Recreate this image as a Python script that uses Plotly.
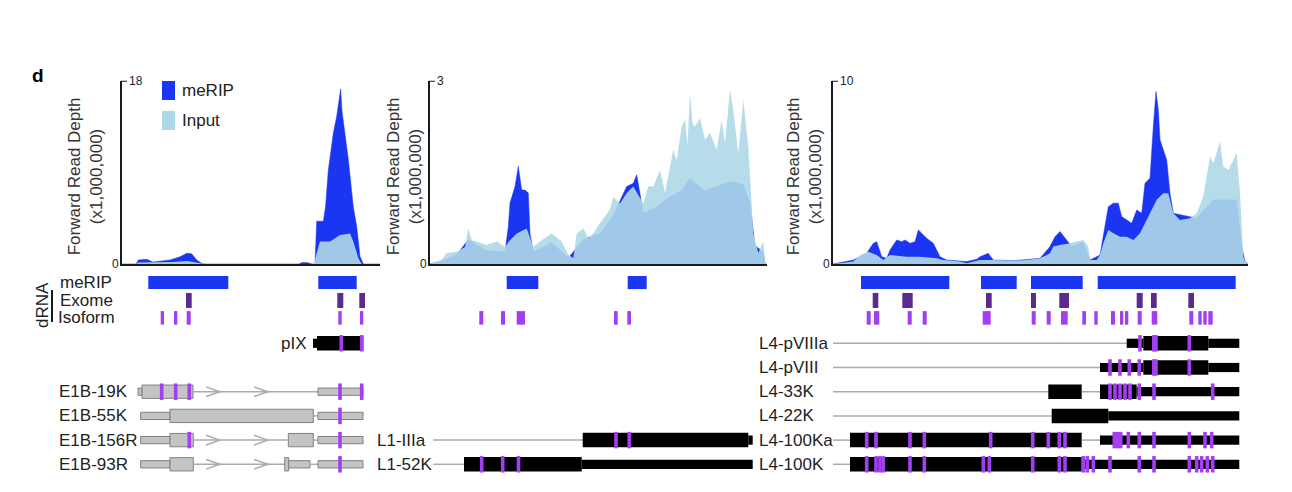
import plotly.graph_objects as go

W, H = 1292, 492
PAGE_OFFSET = 8  # default body margin of the html page

MERIP = "#1b36f2"
INPUT = "rgba(174,216,232,0.9)"
EXOME = "#5a2a8e"
ISOFORM = "#a23ff0"
GENE_BLACK = "#000000"
GENE_GRAY = "#c4c4c4"
GENE_EDGE = "#808080"
INTRON = "#ababab"
FONT = "Liberation Sans, Arial, Helvetica, sans-serif"

# ---------------- coverage, forward read depth (x1,000,000) vs genome position (nt) ----------------
# E1B / pIX region
e1b_merip_pos = [1500, 1640, 1663, 1747, 1810, 1980, 2080, 2147, 2197, 2247, 2297, 2330,
                 3270, 3300, 3360, 3400, 3430, 3447, 3513, 3535, 3563, 3590, 3613, 3647,
                 3687, 3700, 3730, 3763, 3813, 3847, 3880, 3913, 4080]
e1b_merip = [0, 0, 0.4, 0.46, 0.2, 0.4, 0.7, 1.05, 1.0, 0.4, 0.07, 0,
             0, 0.15, 0.12, 0, 0, 4.2, 4.2, 5.6, 9.2, 11.5, 12.85, 14.5,
             17.2, 15.0, 12.85, 10.3, 5.6, 3.7, 0.75, 0, 0]
e1b_input_pos = [1500, 1640, 1660, 1800, 2000, 2150, 2250, 2300, 2400, 3420, 3447,
                 3480, 3580, 3680, 3780, 3813, 3863, 3897, 4080]
e1b_input = [0, 0, 0.15, 0.15, 0.2, 0.3, 0.15, 0.05, 0, 0, 1.05,
             2.2, 2.2, 2.85, 3.0, 2.2, 0.6, 0, 0]

# L1 region
l1_input_pos = [10000, 10117, 10167, 10267, 10350, 10383, 10417, 10467, 10567, 10667,
                10750, 10800, 10867, 10967, 11033, 11100, 11217, 11317, 11383, 11433,
                11467, 11533, 11583, 11633, 11700, 11800, 11833, 11900, 11967, 12033,
                12133, 12183, 12233, 12300, 12350, 12400, 12433, 12467, 12517, 12550,
                12575, 12600, 12625, 12650, 12700, 12750, 12800, 12867, 12917, 12950,
                13000, 13033, 13083, 13133, 13183, 13233, 13283, 13333, 13350, 13370]
l1_input = [0, 0.07, 0.18, 0.2, 0.28, 0.58, 0.39, 0.37, 0.31, 0.37,
            0.28, 0.39, 0.5, 0.58, 0.28, 0.37, 0.5, 0.37, 0.15, 0.1,
            0.5, 0.58, 0.42, 0.5, 0.67, 0.89, 1.1, 0.99, 1.16, 1.27,
            0.99, 1.27, 1.27, 1.54, 1.16, 1.6, 1.87, 1.7, 2.25, 2.36,
            1.95, 2.8, 2.3, 2.25, 2.39, 2.03, 2.15, 1.87, 2.36, 1.98,
            2.85, 2.52, 1.81, 2.69, 1.92, 0.5, 0.18, 0.37, 0.04, 0]
l1_merip_pos = [10000, 10117, 10267, 10383, 10567, 10750, 10783, 10800, 10850, 10883,
                10917, 10950, 10983, 11000, 11033, 11217, 11383, 11533, 11700, 11833,
                11967, 12033, 12067, 12100, 12133, 12233, 12400, 12517, 12600, 12750,
                12917, 13000, 13133, 13200, 13250, 13333, 13350, 13370]
l1_merip = [0, 0.05, 0.15, 0.4, 0.22, 0.2, 0.61, 1.0, 1.27, 1.6,
            1.21, 1.21, 1.16, 0.5, 0.2, 0.35, 0.1, 0.4, 0.5, 0.8,
            1.27, 1.32, 1.46, 1.16, 0.84, 0.9, 1.1, 1.2, 1.4, 1.2,
            1.3, 1.35, 1.3, 1.0, 0.3, 0.2, 0, 0]

# L4 region
l4_input_pos = [24000, 24203, 24270, 24353, 24437, 24503, 24570, 24737, 24870, 25037,
                25103, 25270, 25337, 25470, 25603, 25803, 25937, 26070, 26170, 26203,
                26270, 26370, 26420, 26503, 26553, 26570, 26637, 26670, 26703, 26753,
                26803, 26870, 26937, 27003, 27070, 27137, 27237, 27303, 27353, 27403,
                27470, 27570, 27637, 27703, 27770, 27803, 27870, 27903, 27953, 28003,
                28037, 28070, 28103, 28120, 28150]
l4_input = [0, 0.13, 0.49, 0.67, 0.49, 0.22, 0.49, 0.4, 0.4, 0.31,
            0.22, 0.13, 0.04, 0.22, 0.22, 0.18, 0.22, 0.31, 0.58, 0.95,
            1.04, 1.13, 1.22, 1.31, 0.95, 0.22, 0.22, 0.49, 1.13, 1.86,
            1.68, 1.49, 1.49, 1.31, 1.68, 2.4, 3.5, 3.86, 3.86, 2.77,
            2.4, 2.5, 2.77, 3.68, 5.86, 5.5, 6.68, 5.32, 5.13, 5.68,
            6.05, 3.86, 0.4, 0.13, 0]
l4_merip_pos = [24000, 24203, 24337, 24403, 24437, 24487, 24537, 24570, 24637, 24687,
                24720, 24770, 24820, 24853, 24887, 24937, 25003, 25070, 25137, 25337,
                25437, 25470, 25553, 25603, 25803, 26070, 26170, 26220, 26270, 26337,
                26387, 26503, 26570, 26670, 26720, 26753, 26803, 26853, 26887, 26937,
                26987, 27037, 27087, 27120, 27170, 27203, 27230, 27253, 27270, 27337,
                27370, 27403, 27637, 27803, 28037, 28087, 28120, 28150]
l4_merip = [0, 0.22, 0.58, 1.13, 1.22, 0.4, 0.31, 0.77, 1.31, 1.22,
            1.31, 1.13, 1.22, 1.86, 1.68, 1.4, 1.13, 0.4, 0.22, 0.13,
            0.26, 0.4, 0.58, 0.22, 0.18, 0.31, 0.95, 1.49, 1.77, 1.31,
            0.95, 1.2, 0.22, 0.49, 2.04, 3.13, 3.32, 3.32, 2.59, 2.4,
            2.22, 2.95, 2.77, 4.41, 4.68, 7.5, 9.42, 8.42, 6.78, 5.68,
            3.86, 2.77, 2.5, 3.5, 3.5, 0.95, 0.13, 0]

y_max = [18, 3, 10]

# ---------------- tracks (nt ranges) ----------------
e1b_merip_peaks = [(1763, 2563), (3463, 3847)]
l1_merip_peaks = [(10767, 11083), (11977, 12167)]
l4_merip_peaks = [(24280, 25163), (25480, 25837), (25980, 26497), (26647, 28027)]

e1b_exome = [(2140, 2197), (3653, 3713), (3873, 3930)]
l1_exome = []
l4_exome = [(24397, 24453), (24693, 24797), (25530, 25587), (25980, 26030),
            (26263, 26360), (27037, 27097), (27180, 27237), (27553, 27610)]

e1b_isoform = [(1887, 1920), (2020, 2053), (2147, 2187), (3663, 3697), (3880, 3913)]
l1_isoform = [(10493, 10533), (10710, 10750), (10867, 10950), (11840, 11877), (11973, 12010)]
l4_isoform = [(24337, 24377), (24410, 24463), (24747, 24787), (24897, 24937), (25497, 25577),
              (25987, 26027), (26137, 26177), (26280, 26347), (26493, 26530), (26613, 26647),
              (26780, 26820), (26870, 26903), (26920, 26953), (27047, 27087), (27187, 27243),
              (27563, 27603), (27653, 27687), (27703, 27737), (27753, 27797)]

# transcript models: (start, end, part)
e1b_genes = {
    "pIX": [(3410, 3450, "utr"), (3450, 3913, "cds")],
    "E1B-19K": [(1660, 1700, "utr"), (1700, 2210, "cds"), (2210, 3460, "intron"), (3460, 3910, "utr")],
    "E1B-55K": [(1687, 1980, "utr"), (1980, 3413, "cds"), (3413, 3460, "intron"), (3460, 3910, "utr")],
    "E1B-156R": [(1687, 1980, "utr"), (1980, 2213, "cds"), (2213, 3163, "intron"), (3163, 3413, "cds"),
                 (3413, 3460, "intron"), (3460, 3910, "utr")],
    "E1B-93R": [(1687, 1980, "utr"), (1980, 2213, "cds"), (2213, 3127, "intron"), (3127, 3167, "cds"),
                (3167, 3380, "utr"), (3380, 3460, "intron"), (3460, 3910, "utr")],
}
e1b_sites = {
    "pIX": [3693, 3897],
    "E1B-19K": [1897, 2037, 2173, 3680, 3897],
    "E1B-55K": [3680],
    "E1B-156R": [2173, 3680],
    "E1B-93R": [3680],
}
e1b_chevrons = {"E1B-19K": [2480, 2960], "E1B-156R": [2480, 2960], "E1B-93R": [2480, 2960]}

l1_genes = {
    "L1-IIIa": [(10033, 11527, "intron"), (11527, 13183, "cds"), (13183, 13227, "utr")],
    "L1-52K": [(10033, 10340, "intron"), (10340, 11517, "cds"), (11517, 13227, "utr")],
}
l1_sites = {
    "L1-IIIa": [11860, 11993],
    "L1-52K": [10517, 10727, 10885],
}

l4_genes = {
    "L4-pVIIIa": [(24000, 26937, "intron"), (26937, 27103, "utr"), (27103, 27753, "cds"), (27753, 28063, "utr")],
    "L4-pVIII": [(24000, 26670, "intron"), (26670, 27103, "utr"), (27103, 27753, "cds"), (27753, 28063, "utr")],
    "L4-33K": [(24000, 26153, "intron"), (26153, 26487, "cds"), (26487, 26670, "intron"), (26670, 27037, "cds"),
               (27037, 28063, "utr")],
    "L4-22K": [(24000, 26187, "intron"), (26187, 26753, "cds"), (26753, 28063, "utr")],
    "L4-100Ka": [(24000, 24170, "intron"), (24170, 26487, "cds"), (26487, 26670, "intron"), (26670, 28063, "utr")],
    "L4-100K": [(24000, 24170, "intron"), (24170, 26487, "cds"), (26487, 28063, "utr")],
}
l4_sites = {
    "L4-pVIIIa": [27070, 27208, 27230, 27563],
    "L4-pVIII": [26770, 26870, 26963, 27063, 27208, 27230, 27563],
    "L4-33K": [26770, 26820, 26870, 26920, 26970, 27063, 27210, 27797],
    "L4-22K": [],
    "L4-100Ka": [24337, 24430, 24770, 24913, 25577, 25997, 26153, 26263, 26320, 26813, 26847,
                 26877, 26953, 27063, 27210, 27563, 27720, 27787],
    "L4-100K": [24337, 24430, 24470, 24503, 24770, 24913, 25503, 25563, 25997, 26263, 26320,
                26503, 26543, 26603, 26770, 27063, 27210, 27563, 27637, 27687, 27743, 27797],
}

# ---------------- layout geometry (pixels in the screenshot) ----------------
panel_px = [(122, 380, 1500, 4080), (430, 767, 10000, 13370), (833, 1248, 24000, 28150)]
cov_top, cov_zero = 80.7, 264
trk_top, trk_bot = 266, 478
ROW_PX = 24.2
ROW0 = 270.7
trk_range = [(trk_bot - ROW0) / ROW_PX, (trk_top - ROW0) / ROW_PX]

ROW_MERIP, ROW_EXOME, ROW_ISO = 0.49, 1.23, 1.95
rows_e1b = {"pIX": 3, "E1B-19K": 5, "E1B-55K": 6, "E1B-156R": 7, "E1B-93R": 8}
rows_l1 = {"L1-IIIa": 7, "L1-52K": 8}
rows_l4 = {"L4-pVIIIa": 3, "L4-pVIII": 4, "L4-33K": 5, "L4-22K": 6, "L4-100Ka": 7, "L4-100K": 8}


def px_x(p):
    return (p - PAGE_OFFSET) / W


def px_y(p):
    return 1 - (p - PAGE_OFFSET) / H


fig = go.Figure()
layout = dict(width=W, height=H, margin=dict(l=0, r=0, t=0, b=0),
              plot_bgcolor="white", paper_bgcolor="white", showlegend=False,
              font=dict(family=FONT, size=17, color="#222222"))

shapes = []
annotations = []

coverage = [(e1b_merip_pos, e1b_merip, e1b_input_pos, e1b_input),
            (l1_merip_pos, l1_merip, l1_input_pos, l1_input),
            (l4_merip_pos, l4_merip, l4_input_pos, l4_input)]
title_shift = [-37, -26, -29]

for i, (p0, p1, r0, r1) in enumerate(panel_px):
    n = "" if i == 0 else str(i + 1)
    xa, ya = "x" + n, "y" + n
    layout["xaxis" + n] = dict(domain=[px_x(p0), px_x(p1)], range=[r0, r1], anchor=ya,
                               showline=True, linecolor="#1a1a1a", linewidth=2,
                               showticklabels=False, ticks="", showgrid=False, zeroline=False)
    layout["yaxis" + n] = dict(domain=[px_y(cov_zero), px_y(cov_top)], range=[0, y_max[i]], anchor=xa,
                               showline=True, linecolor="#1a1a1a", linewidth=2,
                               showticklabels=False, ticks="", showgrid=False, zeroline=False)
    mpos, mval, ipos, ival = coverage[i]
    fig.add_trace(go.Scatter(x=mpos, y=mval, xaxis=xa, yaxis=ya, mode="lines",
                             line=dict(width=0.5, color=MERIP), fill="tozeroy", fillcolor=MERIP,
                             hoverinfo="skip"))
    fig.add_trace(go.Scatter(x=ipos, y=ival, xaxis=xa, yaxis=ya, mode="lines",
                             line=dict(width=0), fill="tozeroy", fillcolor=INPUT,
                             hoverinfo="skip"))
    # top tick and tick labels
    shapes.append(dict(type="line", xref="paper", yref=ya, x0=px_x(p0) - 1 / W, x1=px_x(p0 + 5),
                       y0=y_max[i], y1=y_max[i], line=dict(color="#1a1a1a", width=2)))
    annotations.append(dict(text=str(y_max[i]), xref=xa + " domain", yref=ya, x=0, y=y_max[i],
                            xanchor="left", yanchor="middle", xshift=5, showarrow=False,
                            font=dict(size=12)))
    annotations.append(dict(text="0", xref=xa + " domain", yref=ya, x=0, y=0,
                            xanchor="right", yanchor="middle", xshift=-1, showarrow=False,
                            font=dict(size=12)))
    annotations.append(dict(text="Forward Read Depth<br>(x1,000,000)", xref=xa + " domain",
                            yref=ya + " domain", x=0, y=0.5, xshift=title_shift[i], yshift=-4,
                            textangle=-90, xanchor="center", yanchor="middle", showarrow=False,
                            font=dict(size=17, color="#333333")))

layout["yaxis4"] = dict(domain=[px_y(trk_bot), px_y(trk_top)], range=trk_range, anchor="x",
                        visible=False, showgrid=False, zeroline=False)


def rect(xref, x0, x1, yc, h, color, edge=None):
    return dict(type="rect", xref=xref, yref="y4", x0=x0, x1=x1, y0=yc - h / 2, y1=yc + h / 2,
                fillcolor=color, line=dict(width=1 if edge else 0, color=edge or color))


tracks = [("x", e1b_merip_peaks, e1b_exome, e1b_isoform),
          ("x2", l1_merip_peaks, l1_exome, l1_isoform),
          ("x3", l4_merip_peaks, l4_exome, l4_isoform)]
for xref, peaks, exome, iso in tracks:
    for a, b in peaks:
        shapes.append(rect(xref, a, b, ROW_MERIP, 0.54, MERIP))
    for a, b in exome:
        shapes.append(rect(xref, a, b, ROW_EXOME, 0.62, EXOME))
    for a, b in iso:
        shapes.append(rect(xref, a, b, ROW_ISO, 0.56, ISOFORM))


def draw_gene(xref, parts, sites, row, gray):
    fill = GENE_GRAY if gray else GENE_BLACK
    edge = GENE_EDGE if gray else None
    for a, b, kind in parts:
        if kind == "intron":
            shapes.append(dict(type="line", xref=xref, yref="y4", x0=a, x1=b, y0=row, y1=row,
                               line=dict(color=INTRON, width=1.5)))
        elif kind == "utr":
            shapes.append(rect(xref, a, b, row, 0.3 if gray else 0.38, fill, edge))
        else:
            shapes.append(rect(xref, a, b, row, 0.55 if gray else 0.6, fill, edge))
    for s in sites:
        shapes.append(rect(xref, s - 18, s + 18, row, 0.68, ISOFORM))


for name, parts in e1b_genes.items():
    draw_gene("x", parts, e1b_sites[name], rows_e1b[name], gray=(name != "pIX"))
for name, parts in l1_genes.items():
    draw_gene("x2", parts, l1_sites[name], rows_l1[name], gray=False)
for name, parts in l4_genes.items():
    draw_gene("x3", parts, l4_sites[name], rows_l4[name], gray=False)

# chevrons on E1B introns
cx, cy = [], []
for name, tips in e1b_chevrons.items():
    r = rows_e1b[name]
    for t in tips:
        cx += [t - 140, t, t - 140, None]
        cy += [r - 0.2, r, r + 0.2, None]
fig.add_trace(go.Scatter(x=cx, y=cy, xaxis="x", yaxis="y4", mode="lines",
                         line=dict(color=INTRON, width=1.5), hoverinfo="skip"))

# gene labels
for name in rows_e1b:
    if name == "pIX":
        annotations.append(dict(text=name, xref="x", yref="y4", x=e1b_genes[name][0][0], y=rows_e1b[name],
                                xanchor="right", yanchor="middle", xshift=-4, showarrow=False))
    else:
        annotations.append(dict(text=name, xref="paper", yref="y4", x=px_x(57), y=rows_e1b[name],
                                xanchor="left", yanchor="middle", showarrow=False))
for name in rows_l1:
    annotations.append(dict(text=name, xref="paper", yref="y4", x=px_x(375), y=rows_l1[name],
                            xanchor="left", yanchor="middle", showarrow=False))
for name in rows_l4:
    annotations.append(dict(text=name, xref="paper", yref="y4", x=px_x(757), y=rows_l4[name],
                            xanchor="left", yanchor="middle", showarrow=False))

# track labels
for txt, r in [("meRIP", ROW_MERIP), ("Exome", ROW_EXOME), ("Isoform", ROW_ISO)]:
    annotations.append(dict(text=txt, xref="paper", yref="y4", x=px_x(86), y=r,
                            xanchor="center", yanchor="middle", showarrow=False))
annotations.append(dict(text="dRNA", xref="paper", yref="paper", x=px_x(42), y=px_y(305),
                        textangle=-90, xanchor="center", yanchor="middle", showarrow=False))
shapes.append(dict(type="line", xref="paper", yref="paper", x0=px_x(52), x1=px_x(52),
                   y0=px_y(290), y1=px_y(322), line=dict(color="#1a1a1a", width=2)))

# legend
for txt, col, top in [("meRIP", MERIP, 81), ("Input", "#aed8e8", 111)]:
    shapes.append(dict(type="rect", xref="paper", yref="paper", x0=px_x(162), x1=px_x(175),
                       y0=px_y(top + 19), y1=px_y(top), fillcolor=col, line=dict(width=0)))
    annotations.append(dict(text=txt, xref="paper", yref="paper", x=px_x(180), y=px_y(top + 9.5),
                            xanchor="left", yanchor="middle", showarrow=False))

# panel letter
annotations.append(dict(text="<b>d</b>", xref="paper", yref="paper", x=px_x(38), y=px_y(76),
                        xanchor="center", yanchor="middle", showarrow=False,
                        font=dict(size=19, color="#000000")))

layout["shapes"] = shapes
layout["annotations"] = annotations
fig.update_layout(**layout)
fig.write_html("out.html")
